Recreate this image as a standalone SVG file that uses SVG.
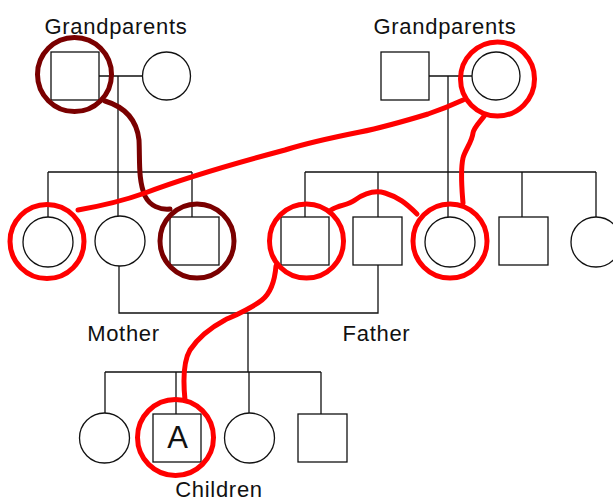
<svg xmlns="http://www.w3.org/2000/svg" width="613" height="502" viewBox="0 0 613 502">
<style>
.n{fill:#fff;stroke:#111;stroke-width:1.3}
.c{fill:none;stroke:#111;stroke-width:1.3}
.t{font-family:"Liberation Sans",Arial,sans-serif;font-size:22px;fill:#111;letter-spacing:0.7px;text-anchor:middle}
.r{fill:none;stroke:#ff0000;stroke-width:5;stroke-linecap:round;stroke-linejoin:round}
.d{fill:none;stroke:#7a0000;stroke-width:5;stroke-linecap:round;stroke-linejoin:round}
</style>
<rect width="613" height="502" fill="#fff"/>
<g id="connectors">
<path class="c" d="M99 76H142M118 76V172M48 172H192M48 172V217M118 172V217M192 172V217"/>
<path class="c" d="M429 76H472M448 76V172M305 172H596M305 172V217M378 172V217M448 172V217M522 172V217M596 172V217"/>
<path class="c" d="M119 266V313H378V265M248 313V372M105 372H321M105 372V413M176 372V414M249 372V413M321 372V414"/>
</g>
<g id="gp1-male"><rect class="n" x="51" y="52" width="48" height="48"/></g>
<g id="gp1-female"><circle class="n" cx="166.5" cy="76" r="24"/></g>
<g id="gp2-male"><rect class="n" x="381" y="52" width="48" height="48"/></g>
<g id="gp2-female"><circle class="n" cx="496" cy="76" r="24"/></g>
<g id="aunt1"><circle class="n" cx="48" cy="242" r="25"/></g>
<g id="mother"><circle class="n" cx="120" cy="241" r="25"/></g>
<g id="uncle1"><rect class="n" x="170" y="217" width="49" height="48"/></g>
<g id="uncle2"><rect class="n" x="281" y="217" width="48" height="48"/></g>
<g id="father"><rect class="n" x="353" y="217" width="49" height="48"/></g>
<g id="aunt2"><circle class="n" cx="450" cy="242" r="25"/></g>
<g id="uncle3"><rect class="n" x="499" y="217" width="49" height="48"/></g>
<g id="aunt3"><circle class="n" cx="596" cy="242" r="25"/></g>
<g id="child1"><circle class="n" cx="104.5" cy="438" r="25"/></g>
<g id="childA"><rect class="n" x="153" y="414" width="48" height="48"/><text x="177.5" y="448" style="font-family:'Liberation Sans',Arial,sans-serif;font-size:31px;fill:#111;text-anchor:middle">A</text></g>
<g id="child3"><circle class="n" cx="249.5" cy="438" r="25"/></g>
<g id="child4"><rect class="n" x="298" y="414" width="49" height="48"/></g>
<g id="labels">
<text class="t" x="116" y="34">Grandparents</text>
<text class="t" x="445" y="34">Grandparents</text>
<text class="t" x="123.5" y="341">Mother</text>
<text class="t" x="376.5" y="341">Father</text>
<text class="t" x="219" y="497">Children</text>
</g>
<g id="highlights">
<circle class="d" cx="74.5" cy="74.5" r="37"/>
<circle class="d" cx="197" cy="241" r="37"/>
<path class="d" d="M105 101C128 108 137 122 139 140C140 160 138 180 145 196C150 206 160 210 170 209"/>
<circle class="r" cx="497.5" cy="79" r="37"/>
<circle class="r" cx="47" cy="241.5" r="37"/>
<circle class="r" cx="306.5" cy="241" r="37"/>
<circle class="r" cx="450" cy="241" r="37"/>
<circle class="r" cx="175.5" cy="437.5" r="38"/>
<path class="r" d="M463 100C450 106 440 110 428 114C405 121 385 127 360 132C335 137 310 142 285 150C240 162 190 176 145 193C120 202 95 207 78 210"/>
<path class="r" d="M485 115C480 122 474 127 473 133C472 142 465 150 463 158C460 172 462 190 463 203"/>
<path class="r" d="M331 210C340 204 347 206 355 200C365 193 375 190 385 193C398 197 406 203 417 214"/>
<path class="r" d="M276 266C275 278 272 292 262 300C252 308 238 314 225 320C210 328 198 338 190 350C183 362 183 380 185 400"/>
</g>
</svg>
